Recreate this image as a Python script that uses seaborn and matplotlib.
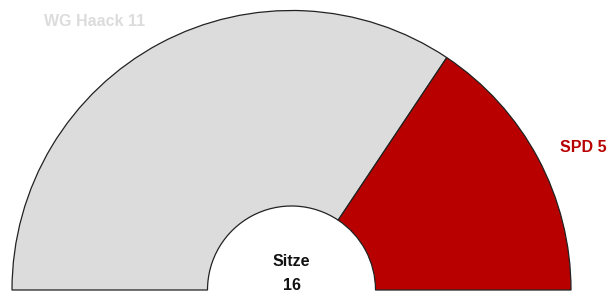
import matplotlib
matplotlib.use("Agg")
import matplotlib.pyplot as plt
import seaborn as sns

sns.set_theme(style="white")
plt.rcParams['font.family'] = ['Liberation Sans', 'DejaVu Sans']

parties = ["WG Haack", "SPD"]
seats = [11, 5]
colors = ["#dcdcdc", "#b90000"]
center_title = "Sitze"

W, H = 613, 299
fig = plt.figure(figsize=(W / 100, H / 100), dpi=100)
ax = fig.add_axes([0, 0, 1, 1])

total = sum(seats)
cx, cy = 291.5, H - 290
r_out, r_in = 279.5, 84

values = seats + [total]
wcolors = colors + ["none"]
wedges, _ = ax.pie(values, colors=wcolors, startangle=180, counterclock=False,
                   center=(cx, cy), radius=r_out,
                   wedgeprops=dict(width=r_out - r_in, edgecolor="#222222", linewidth=0.9))
wedges[-1].set_edgecolor("none")
wedges[-1].set_facecolor("none")

ax.set_xlim(0, W)
ax.set_ylim(0, H)
ax.set_aspect("auto")
ax.axis("off")

label_pos = [(95, 22), (583.5, 148)]
for name, n, col, (x, y) in zip(parties, seats, colors, label_pos):
    ax.text(x, H - y, f"{name} {n}", color=col, fontsize=11.5, fontweight="bold",
            ha="center", va="center")

ax.text(cx, H - 262, center_title, fontsize=11.5, fontweight="bold", ha="center", va="center", color="#111111")
ax.text(cx, H - 285, str(total), fontsize=11.5, fontweight="bold", ha="center", va="center", color="#111111")

fig.savefig("out.png", dpi=100)
